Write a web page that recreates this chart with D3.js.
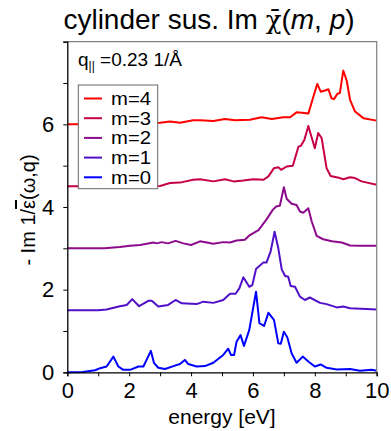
<!DOCTYPE html>
<html>
<head>
<meta charset="utf-8">
<script src="https://cdn.jsdelivr.net/npm/d3@7"></script>
<style>
  body { margin: 0; background: #fff; }
  text { font-family: "Liberation Sans", Arial, sans-serif; fill: #000; }
</style>
</head>
<body>
<svg id="chart" width="391" height="431"></svg>
<script>
// Loss-function curves for angular momenta m = 0..4, stacked by an offset of 1.5 each.
// Each entry is [energy (eV), -Im 1/eps including offset].
const seriesNames  = ["m=4", "m=3", "m=2", "m=1", "m=0"];
const seriesColors = ["#ff0000", "#c8004a", "#8c0a8c", "#5010c8", "#0000ff"];

const curveM0 = [
  [0,0.0],[0.5,0.01],[0.9,0.05],[1.06,0.1],[1.27,0.14],[1.49,0.38],[1.65,0.14],[1.81,0.06],
  [2.03,0.06],[2.3,0.14],[2.46,0.14],[2.7,0.52],[2.8,0.23],[2.94,0.11],[3.16,0.08],[3.43,0.15],
  [3.64,0.2],[3.8,0.3],[3.91,0.2],[4.18,0.14],[4.45,0.15],[4.72,0.23],[5.04,0.42],[5.2,0.57],
  [5.29,0.42],[5.39,0.42],[5.47,0.74],[5.6,0.9],[5.71,0.64],[5.88,1.02],[6.1,1.95],[6.21,1.19],
  [6.36,1.12],[6.5,1.44],[6.68,1.27],[6.82,0.7],[6.9,0.69],[7.0,0.98],[7.11,0.85],[7.25,0.46],
  [7.41,0.23],[7.61,0.38],[7.79,0.26],[8.0,0.14],[8.19,0.19],[8.38,0.11],[8.71,0.07],[9.14,0.08],
  [9.46,0.04],[9.84,0.06],[10,0.04]
];
const curveM1 = [
  [0,1.5],[1.0,1.5],[1.27,1.52],[1.7,1.6],[1.92,1.63],[2.1,1.77],[2.32,1.6],[2.62,1.73],
  [2.73,1.73],[2.94,1.59],[3.26,1.63],[3.5,1.75],[3.7,1.67],[4.18,1.65],[4.4,1.71],[4.72,1.68],
  [5.04,1.75],[5.26,1.9],[5.44,1.9],[5.56,2.03],[5.69,2.3],[5.88,2.07],[5.98,2.11],[6.1,2.5],
  [6.34,2.66],[6.44,2.66],[6.57,2.92],[6.7,3.4],[6.82,3.0],[6.93,2.49],[7.04,2.33],[7.14,2.31],
  [7.22,2.09],[7.36,2.07],[7.52,1.83],[7.68,1.75],[7.84,1.81],[8.17,1.68],[8.38,1.65],[8.71,1.57],
  [8.92,1.59],[9.14,1.55],[10,1.52]
];
const curveM2 = [
  [0,3.0],[1.2,3.0],[1.7,3.03],[2.03,3.06],[2.35,3.08],[2.78,3.14],[2.89,3.12],[3.05,3.15],
  [3.26,3.12],[3.5,3.18],[3.75,3.12],[4.0,3.08],[4.29,3.17],[4.51,3.14],[4.72,3.11],[5.04,3.15],
  [5.26,3.14],[5.47,3.19],[5.74,3.21],[5.9,3.32],[6.18,3.44],[6.44,3.7],[6.64,3.93],[6.75,4.01],
  [6.87,4.03],[7.0,4.48],[7.09,4.2],[7.25,4.08],[7.41,4.05],[7.52,3.89],[7.63,3.86],[7.79,3.97],
  [7.9,3.65],[8.06,3.3],[8.27,3.22],[8.55,3.17],[8.87,3.14],[9.14,3.07],[9.46,3.06],[10,3.06]
];
const curveM3 = [
  [0,4.5],[1.5,4.5],[2.5,4.5],[3.0,4.51],[3.32,4.58],[3.64,4.59],[4.07,4.66],[4.29,4.67],
  [4.72,4.62],[5.1,4.67],[5.37,4.62],[5.69,4.64],[6.01,4.67],[6.34,4.66],[6.5,4.74],[6.68,4.94],
  [6.82,4.96],[6.91,4.9],[7.09,4.98],[7.29,5.0],[7.47,5.46],[7.55,5.48],[7.66,5.62],[7.79,5.96],
  [8.0,5.42],[8.11,5.79],[8.22,5.67],[8.38,4.94],[8.51,4.75],[8.81,4.7],[8.92,4.67],[9.14,4.72],
  [9.3,4.7],[9.51,4.62],[10,4.54]
];
const curveM4 = [
  [0,6.0],[1.5,6.0],[2.5,6.02],[3.0,6.04],[3.32,6.07],[3.64,6.04],[4.07,6.1],[4.29,6.1],
  [4.72,6.08],[5.1,6.13],[5.42,6.1],[5.9,6.11],[6.28,6.17],[6.61,6.13],[6.98,6.17],[7.2,6.17],
  [7.41,6.29],[7.58,6.28],[7.79,6.26],[7.95,6.66],[8.08,6.98],[8.19,6.79],[8.33,6.82],[8.44,6.85],
  [8.54,6.63],[8.62,6.61],[8.73,6.74],[8.81,6.76],[8.92,7.3],[9.03,7.06],[9.14,6.59],[9.3,6.31],
  [9.57,6.15],[10,6.09]
];
const curves = [curveM4, curveM3, curveM2, curveM1, curveM0];

const xMajorTicks = [0, 2, 4, 6, 8, 10];
const xAllTicks   = [0, 1, 2, 3, 4, 5, 6, 7, 8, 9, 10];
const yMajorTicks = [0, 2, 4, 6];
const yAllTicks   = [0, 1, 2, 3, 4, 5, 6, 7, 8];

const svg = d3.select("#chart");
const plot = { left: 67.3, right: 376.7, top: 41.7, bottom: 372.3 };

const x = d3.scaleLinear().domain([0, 10]).range([plot.left, plot.right]);
const y = d3.scaleLinear().domain([0, 8]).range([plot.bottom, plot.top]);

// curves
const line = d3.line().x(d => x(d[0])).y(d => y(d[1]));
svg.append("g").selectAll("path")
  .data(curves)
  .join("path")
  .attr("d", line)
  .attr("fill", "none")
  .attr("stroke", (d, i) => seriesColors[i])
  .attr("stroke-width", 2)
  .attr("stroke-linejoin", "round");

// frame: grey top and right edges
svg.append("path")
  .attr("d", `M${plot.left},${plot.top}H${plot.right}V${plot.bottom}`)
  .attr("fill", "none")
  .attr("stroke", "#808080")
  .attr("stroke-width", 1.2);

// axes
const xAxis = d3.axisBottom(x).tickValues(xAllTicks)
  .tickFormat(d => xMajorTicks.includes(d) ? d : "")
  .tickSize(4).tickPadding(6);
const gx = svg.append("g").attr("transform", `translate(0,${plot.bottom})`).call(xAxis);
gx.select(".domain").attr("stroke", "#000").attr("stroke-width", 1.3);
gx.selectAll(".tick text").attr("font-size", 22).attr("font-family", "Liberation Sans, Arial, sans-serif");

const yAxis = d3.axisLeft(y).tickValues(yAllTicks)
  .tickFormat(d => yMajorTicks.includes(d) ? d : "")
  .tickSize(4).tickPadding(9);
const gy = svg.append("g").attr("transform", `translate(${plot.left},0)`).call(yAxis);
gy.select(".domain").attr("stroke", "#000").attr("stroke-width", 1.3);
gy.selectAll(".tick text").attr("font-size", 22).attr("font-family", "Liberation Sans, Arial, sans-serif");

// axis titles
svg.append("text")
  .attr("x", (plot.left + plot.right) / 2)
  .attr("y", 424)
  .attr("text-anchor", "middle")
  .attr("font-size", 21)
  .text("energy [eV]");

const yLab = svg.append("text")
  .attr("transform", `translate(35,${(plot.top + plot.bottom) / 2 + 3}) rotate(-90)`)
  .attr("text-anchor", "middle")
  .attr("font-size", 20);
yLab.append("tspan").text("- Im 1/");
yLab.append("tspan").style("text-decoration", "overline").text("ε");
yLab.append("tspan").text("(ω,q)");

// title
const title = svg.append("text")
  .attr("x", 209)
  .attr("y", 29)
  .attr("text-anchor", "middle")
  .attr("font-size", 28);
title.append("tspan").text("cylinder sus. Im ");
title.append("tspan").attr("font-family", "DejaVu Serif, serif").attr("font-size", 26).text("χ\u0304");
title.append("tspan").text("(");
title.append("tspan").attr("font-style", "italic").text("m");
title.append("tspan").text(", ");
title.append("tspan").attr("font-style", "italic").text("p");
title.append("tspan").text(")");

// momentum annotation
const qLab = svg.append("text").attr("x", 78).attr("y", 66).attr("font-size", 19);
qLab.append("tspan").text("q");
qLab.append("tspan").attr("font-size", 12).attr("dy", 4).text("||");
qLab.append("tspan").attr("dy", -4).text(" =0.23 1/Å");

// legend
const legend = svg.append("g");
legend.append("rect")
  .attr("x", 78.3).attr("y", 85)
  .attr("width", 79.4).attr("height", 103.7)
  .attr("fill", "#fff")
  .attr("stroke", "#666")
  .attr("stroke-width", 1);
const rowY = i => 98.5 + i * 19.7;
legend.selectAll("line")
  .data(seriesNames)
  .join("line")
  .attr("x1", 84).attr("x2", 102)
  .attr("y1", (d, i) => rowY(i)).attr("y2", (d, i) => rowY(i))
  .attr("stroke", (d, i) => seriesColors[i])
  .attr("stroke-width", 2);
legend.selectAll("text")
  .data(seriesNames)
  .join("text")
  .attr("x", 111)
  .attr("y", (d, i) => rowY(i) + 6.5)
  .attr("font-size", 18)
  .attr("textLength", 40)
  .attr("lengthAdjust", "spacingAndGlyphs")
  .text(d => d);
</script>
</body>
</html>
